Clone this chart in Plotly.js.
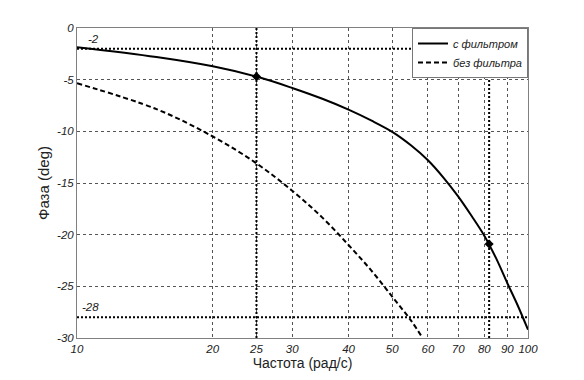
<!DOCTYPE html>
<html><head><meta charset="utf-8">
<script src="https://cdn.plot.ly/plotly-3.0.1.min.js"></script>
<style>body{margin:0;background:#fff}#chart{width:584px;height:380px}</style>
</head><body><div id="chart"></div>
<script>
// with filter
const freqFilter = [10, 15, 20, 25, 30, 35, 40, 45, 50, 55, 60, 65, 70, 75, 80, 85, 90, 95, 100];
const phaseFilter = [-1.85, -2.8, -3.7, -4.7, -5.8, -6.85, -7.9, -8.97, -10.05, -11.35, -12.8, -14.5, -16.3, -18.2, -20.1, -22.3, -24.7, -26.9, -29.2];
// without filter
const freqNoFilter = [10, 15, 20, 25, 30, 35, 40, 45, 50, 55, 58.4];
const phaseNoFilter = [-5.35, -7.85, -10.5, -13.1, -15.75, -18.35, -21.0, -23.5, -26.0, -28.3, -30.0];
// marked points
const markFreq = [25, 82];
const markPhase = [-4.7, -20.9];
// reference levels
const refLevels = [-2, -28];
const refFreqs = [25, 82];
const xTicks = [10, 20, 25, 30, 40, 50, 60, 70, 80, 90, 100];
const yTicks = [0, -5, -10, -15, -20, -25, -30];
const names = ['с фильтром', 'без фильтра'];

const xRange = [10, 100];
const yRange = [-30, 0];

const traces = [];
const refLine = {color: '#000', width: 2, dash: '2px,2px'};
refLevels.forEach(v => traces.push({x: xRange, y: [v, v], mode: 'lines', line: refLine, showlegend: false, hoverinfo: 'skip'}));
refFreqs.forEach(v => traces.push({x: [v, v], y: yRange, mode: 'lines', line: refLine, showlegend: false, hoverinfo: 'skip'}));

traces.push({x: freqFilter, y: phaseFilter, name: names[0], mode: 'lines', line: {color: '#000', width: 2, shape: 'spline', smoothing: 1}});
traces.push({x: freqNoFilter, y: phaseNoFilter, name: names[1], mode: 'lines', line: {color: '#000', width: 2, dash: '5px,3px', shape: 'spline', smoothing: 1}});
traces.push({x: markFreq, y: markPhase, mode: 'markers', marker: {color: '#000', size: 7, symbol: 'diamond'}, showlegend: false});

const tf = {family: 'Liberation Sans, Arial, sans-serif', size: 11.5, color: '#222', style: 'italic'};
const labelShift = [9, 3];

const layout = {
  width: 584, height: 380,
  margin: {l: 77, r: 56, t: 28, b: 42},
  paper_bgcolor: '#fff', plot_bgcolor: '#fff',
  font: {family: 'Liberation Sans, Arial, sans-serif', color: '#222'},
  showlegend: true,
  legend: {x: 1, y: 1, xanchor: 'right', yanchor: 'top', bgcolor: '#fff', bordercolor: '#777', borderwidth: 1,
           font: {family: 'Liberation Sans, Arial, sans-serif', size: 11, color: '#222', style: 'italic'},
           tracegroupgap: 0, itemwidth: 30},
  xaxis: {type: 'log', range: [Math.log10(xRange[0]), Math.log10(xRange[1])], tickvals: xTicks, ticktext: xTicks.map(String),
          tickfont: tf, showgrid: true, gridcolor: '#555', griddash: 'dot', gridwidth: 1,
          showline: true, linecolor: '#808080', linewidth: 1, mirror: true, ticks: '', zeroline: false,
          title: {text: 'Частота (рад/с)', font: {size: 14, color: '#222'}, standoff: 2}},
  yaxis: {range: yRange, tickvals: yTicks, ticktext: yTicks.map(String), tickfont: tf,
          showgrid: true, gridcolor: '#555', griddash: 'dot', gridwidth: 1,
          showline: true, linecolor: '#808080', linewidth: 1, mirror: true, ticks: '', zeroline: false,
          title: {text: 'Фаза (deg)', font: {size: 15, color: '#222'}, standoff: 3}},
  annotations: refLevels.map((v, i) => ({x: 0, y: v, xref: 'paper', yref: 'y', text: String(v), showarrow: false,
      xanchor: 'left', yanchor: 'bottom', yshift: 2, xshift: labelShift[i], font: tf}))
};

Plotly.newPlot('chart', traces, layout, {displayModeBar: false, staticPlot: true});
</script></body></html>
